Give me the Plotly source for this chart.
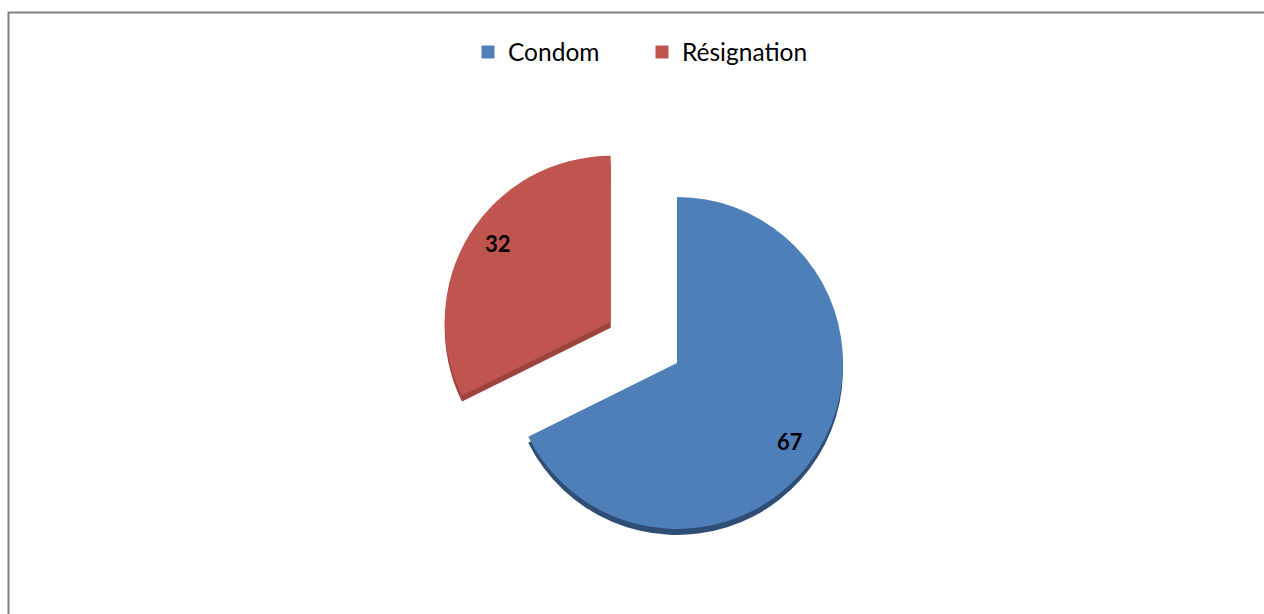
import math
import plotly.graph_objects as go

# Survey answers
labels = ["Condom", "Résignation"]
values = [67, 32]

# Slice styling
face_colors = ["#4F7FB8", "#C0554F"]
side_colors = ["#2E4E76", "#9E423E"]
pulls = [0, 0.47]

W, H = 1264, 614
cx, cy = 677, 363      # pie centre (px from top-left)
r = 166                # pie radius (px)
half = r * (1 + max(pulls))   # half-size of the pie domain so that the radius is r
depth = 6              # thickness of the 3D rim (px)


def domain(dy=0):
    return dict(
        x=[(cx - half) / W, (cx + half) / W],
        y=[(H - (cy + dy + half)) / H, (H - (cy + dy - half)) / H],
    )


fig = go.Figure()

# darker copy slightly lower: gives the slices their rim
fig.add_trace(go.Pie(
    labels=labels, values=values, sort=False, direction="clockwise", rotation=0,
    pull=pulls, domain=domain(depth),
    marker=dict(colors=side_colors, line=dict(width=0)),
    textinfo="none", hoverinfo="skip", showlegend=False,
))

# top faces
fig.add_trace(go.Pie(
    labels=labels, values=values, sort=False, direction="clockwise", rotation=0,
    pull=pulls, domain=domain(0),
    marker=dict(colors=face_colors, line=dict(width=0)),
    textinfo="none", showlegend=False,
))

# legend entries with larger square swatches
for lab, col in zip(labels, face_colors):
    fig.add_trace(go.Scatter(
        x=[None], y=[None], mode="markers", name=lab,
        marker=dict(symbol="square", size=13, color=col),
        showlegend=True,
    ))

# value labels placed along each slice's mid-angle
total = sum(values)
start = 0
annotations = []
for v, p in zip(values, pulls):
    mid = (start + v / 2) / total * 360
    start += v
    ox = cx + p * r * math.sin(math.radians(mid))
    oy = cy - p * r * math.cos(math.radians(mid))
    ang = math.radians(mid + 3)
    tx = ox + 0.83 * r * math.sin(ang)
    ty = oy - 0.83 * r * math.cos(ang)
    annotations.append(dict(
        x=tx / W, y=1 - ty / H, xref="paper", yref="paper",
        text=f"<b>{v}</b>", showarrow=False,
        font=dict(family="Lato", size=22, color="black"),
        xanchor="center", yanchor="middle",
    ))

fig.update_layout(
    width=W, height=H,
    margin=dict(l=0, r=0, t=0, b=0),
    paper_bgcolor="white",
    plot_bgcolor="white",
    font=dict(family="Lato", color="black"),
    xaxis=dict(visible=False),
    yaxis=dict(visible=False),
    legend=dict(
        orientation="h", x=(488 - 20) / W, xanchor="left", y=1 - 52 / H, yanchor="middle",
        font=dict(family="Lato", size=24.5, color="black"),
        entrywidth=129, entrywidthmode="pixels",
        traceorder="normal", bgcolor="rgba(0,0,0,0)",
    ),
    annotations=annotations,
    shapes=[dict(
        type="rect", xref="paper", yref="paper",
        x0=8.5 / W, x1=1.02, y0=-0.02, y1=1 - 12.5 / H,
        line=dict(color="#808080", width=2), fillcolor="rgba(0,0,0,0)", layer="above",
    )],
)

fig.write_html("out.html")
